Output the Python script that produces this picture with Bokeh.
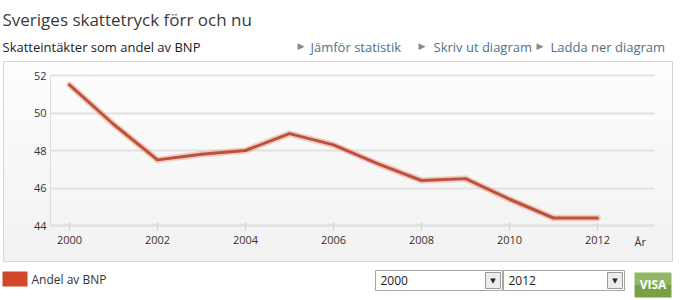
from bokeh.plotting import figure
from bokeh.models import Range1d, FixedTicker, Label, BoxAnnotation
from bokeh.embed import file_html
from bokeh.resources import INLINE

# --- data -------------------------------------------------------------
years = [2000, 2001, 2002, 2003, 2004, 2005, 2006, 2007, 2008, 2009, 2010, 2011, 2012]
share = [51.5, 49.4, 47.5, 47.8, 48.0, 48.9, 48.3, 47.3, 46.4, 46.5, 45.4, 44.4, 44.4]
x_ticks = [2000, 2002, 2004, 2006, 2008, 2010, 2012]
y_ticks = [44, 46, 48, 50, 52]

title_text = "Sveriges skattetryck förr och nu"
subtitle_text = "Skatteintäkter som andel av BNP"
link_texts = ["Jämför statistik", "Skriv ut diagram", "Ladda ner diagram"]
series_name = "Andel av BNP"
axis_unit = "År"
range_from = "2000"
range_to = "2012"
button_text = "VISA"

FONT = "Open Sans"

# --- canvas geometry ----------------------------------------------------
# The frame fills the whole canvas; axes sit inside it at fixed locations.
W, H = 680, 300
KX = 44.0      # pixels per year
KY = 18.75     # pixels per percentage point
X0 = 2000 - 69 / KX
X1 = X0 + W / KX
Y0 = 44 - (H - 225) / KY
Y1 = Y0 + H / KY


def cx(px):
    """canvas pixel x -> data x"""
    return X0 + px / KX


def cy(py):
    """canvas pixel y (from top) -> data y"""
    return Y0 + (H - py) / KY


p = figure(
    width=W, height=H,
    x_range=Range1d(X0, X1), y_range=Range1d(Y0, Y1),
    output_backend="svg", toolbar_location=None,
    min_border=0,
)
p.outline_line_color = None
p.background_fill_color = None
p.border_fill_color = "white"

plot_left, plot_right = 50, 654

# chart panel: soft vertical gradient with a thin grey border
panel_top, panel_bottom, panel_left, panel_right = 61, 261, 3, 672
bands = 10
for i in range(bands):
    t = i / (bands - 1)
    g = int(round(253 - t * 11))
    top = panel_top + (panel_bottom - panel_top) * i / bands
    bot = panel_top + (panel_bottom - panel_top) * (i + 1) / bands
    p.add_layout(BoxAnnotation(
        left=cx(panel_left), right=cx(panel_right), top=cy(top), bottom=cy(bot),
        fill_color=(g, g, g), fill_alpha=1.0, line_color=None, level="image",
    ))
p.add_layout(BoxAnnotation(
    left=cx(panel_left), right=cx(panel_right), top=cy(panel_top), bottom=cy(panel_bottom),
    fill_color=None, line_color="#d6d6d6", line_alpha=1.0, line_width=1, level="image",
))

# grid
p.xgrid.visible = False
grid = p.ygrid[0]
grid.ticker = FixedTicker(ticks=y_ticks)
grid.grid_line_color = "#e1e1e1"
grid.grid_line_width = 2
grid.bounds = (y_ticks[0], y_ticks[-1])
if "cross_bounds" in grid.properties():
    grid.cross_bounds = (cx(plot_left), cx(plot_right))
else:
    grid.visible = False
    p.segment(x0=cx(plot_left), x1=cx(plot_right), y0=y_ticks, y1=y_ticks,
              line_color="#e1e1e1", line_width=2, level="underlay")

# axes, pinned inside the frame
xa = p.xaxis[0]
xa.fixed_location = y_ticks[0]
xa.bounds = (cx(plot_left), cx(plot_right))
xa.ticker = FixedTicker(ticks=x_ticks)
xa.axis_line_color = "#e1e1e1"
xa.axis_line_width = 2
xa.major_tick_in = 3
xa.major_tick_out = 4
xa.major_tick_line_color = "#cfcfcf"
xa.major_tick_line_width = 1
xa.minor_tick_line_color = None
xa.major_label_standoff = 6
xa.major_label_text_font = FONT
xa.major_label_text_font_size = "11px"
xa.major_label_text_color = "#333333"

ya = p.yaxis[0]
ya.fixed_location = cx(plot_left)
ya.bounds = (y_ticks[0], y_ticks[-1])
ya.ticker = FixedTicker(ticks=y_ticks)
ya.axis_line_color = "#dcdcdc"
ya.axis_line_width = 1
ya.major_tick_in = 0
ya.major_tick_out = 0
ya.minor_tick_line_color = None
ya.major_label_standoff = 4
ya.major_label_text_font = FONT
ya.major_label_text_font_size = "11px"
ya.major_label_text_color = "#333333"

# the series: soft halo under a solid line
p.line(years, share, line_color="#eaa596", line_width=6.5, line_alpha=0.55,
       line_join="round", line_cap="round")
p.line(years, share, line_color="#bd523c", line_width=3,
       line_join="round", line_cap="round")


def label(x, y, text, size, color="#333333", style="normal", align="left",
          baseline="alphabetic", font=FONT):
    p.add_layout(Label(x=cx(x), y=cy(y), text=text, text_font=font, text_font_size=size,
                       text_color=color, text_font_style=style, text_align=align,
                       text_baseline=baseline))


# header
label(2, 19, title_text, "17px", color="#3a3a3a")
label(2, 46, subtitle_text, "13px", color="#222222")
link_x = [(297, 310), (418, 433), (536, 550)]
for (tx, lx), txt in zip(link_x, link_texts):
    label(tx, 45, "▶", "9px", color="#8a8a8a", font="DejaVu Sans")
    label(lx, 46, txt, "13px", color="#4f7189")

# axis unit
label(634, 241, axis_unit, "11px", baseline="middle")

# legend
p.add_layout(BoxAnnotation(left=cx(2), right=cx(27), top=cy(271), bottom=cy(286),
                           fill_color="#d2472c", fill_alpha=1.0, line_color=None))
label(31, 279, series_name, "12px", color="#333333", baseline="middle")


# year selectors
def selector(left, right, text):
    p.add_layout(BoxAnnotation(left=cx(left), right=cx(right), top=cy(270), bottom=cy(290),
                               fill_color="white", fill_alpha=1.0,
                               line_color="#a5a5a5", line_alpha=1.0, line_width=1))
    p.add_layout(BoxAnnotation(left=cx(right - 17), right=cx(right - 2), top=cy(272),
                               bottom=cy(288), fill_color="#ececec", fill_alpha=1.0,
                               line_color="#9a9a9a", line_alpha=1.0, line_width=1))
    label(right - 9.5, 280, "▼", "7px", color="#222222", align="center", baseline="middle",
          font="DejaVu Sans")
    label(left + 5, 280, text, "12px", color="#222222", baseline="middle")


selector(375, 502, range_from)
selector(503, 624, range_to)

# show button
p.add_layout(BoxAnnotation(left=cx(634), right=cx(671), top=cy(272), bottom=cy(284.5),
                           fill_color="#93b863", fill_alpha=1.0, line_color=None))
p.add_layout(BoxAnnotation(left=cx(634), right=cx(671), top=cy(284.5), bottom=cy(297),
                           fill_color="#77a144", fill_alpha=1.0, line_color=None))
label(652.5, 284, button_text, "12px", color="white", style="bold", align="center",
      baseline="middle")

open("out.html", "w").write(file_html(p, INLINE, title_text))
